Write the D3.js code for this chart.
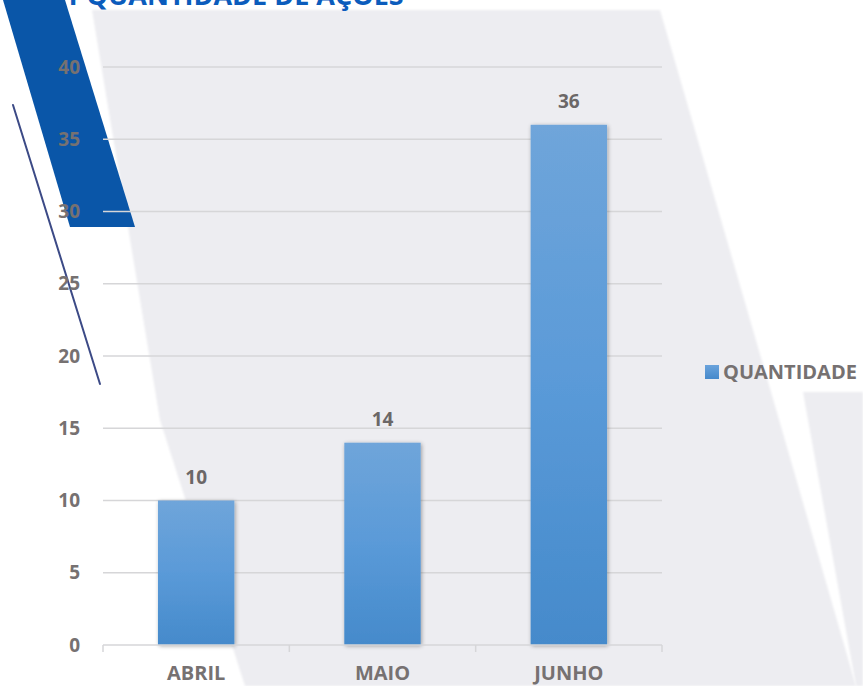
<!DOCTYPE html>
<html>
<head>
<meta charset="utf-8">
<script src="https://cdn.jsdelivr.net/npm/d3@7"></script>
<style>
  html, body { margin: 0; padding: 0; background: #ffffff; }
  svg { display: block; }
  text { font-family: "Open Sans", "Liberation Sans", sans-serif; font-weight: 700; }
</style>
</head>
<body>
<svg id="chart" width="863" height="686"></svg>
<script>
// Chart data
const title = "1 QUANTIDADE DE AÇÕES";
const categories = ["ABRIL", "MAIO", "JUNHO"];
const values = [10, 14, 36];
const seriesName = "QUANTIDADE";
const yTicks = [0, 5, 10, 15, 20, 25, 30, 35, 40];

const W = 863, H = 686;
const svg = d3.select("#chart");
const defs = svg.append("defs");

// Bar fill: lighter at the top, deeper at the base
const grad = defs.append("linearGradient")
  .attr("id", "barGrad").attr("x1", 0).attr("y1", 0).attr("x2", 0).attr("y2", 1);
grad.append("stop").attr("offset", "0%").attr("stop-color", "#6fa5da");
grad.append("stop").attr("offset", "50%").attr("stop-color", "#5a9ad8");
grad.append("stop").attr("offset", "100%").attr("stop-color", "#458acb");

const legGrad = defs.append("linearGradient")
  .attr("id", "legGrad").attr("x1", 0).attr("y1", 0).attr("x2", 0).attr("y2", 1);
legGrad.append("stop").attr("offset", "0%").attr("stop-color", "#6aa3dc");
legGrad.append("stop").attr("offset", "100%").attr("stop-color", "#4689cb");

// Soft shadow around the bars
const shadow = defs.append("filter").attr("id", "barShadow")
  .attr("x", "-20%").attr("y", "-5%").attr("width", "140%").attr("height", "115%");
shadow.append("feGaussianBlur").attr("in", "SourceAlpha").attr("stdDeviation", 2.2).attr("result", "b");
shadow.append("feOffset").attr("in", "b").attr("dx", 1).attr("dy", 1).attr("result", "o");
shadow.append("feComponentTransfer").attr("in", "o").attr("result", "s")
  .append("feFuncA").attr("type", "linear").attr("slope", 0.35);
const merge = shadow.append("feMerge");
merge.append("feMergeNode").attr("in", "s");
merge.append("feMergeNode").attr("in", "SourceGraphic");

const soft = defs.append("filter").attr("id", "soft");
soft.append("feGaussianBlur").attr("stdDeviation", 1.2);

// Decorative background panels
const bg = svg.append("g");
bg.append("path")
  .attr("d", "M92,10 L660,10 L771,392 L856,686 L245,686 L160,420 Z")
  .attr("fill", "#ededf1").attr("filter", "url(#soft)");
bg.append("path")
  .attr("d", "M803,392 L863,392 L863,686 L856,686 Z")
  .attr("fill", "#ededf1").attr("filter", "url(#soft)");
bg.append("path")
  .attr("d", "M3,0 L65,0 L135,227 L70,227 Z")
  .attr("fill", "#0a56a8");
bg.append("line")
  .attr("x1", 13).attr("y1", 105).attr("x2", 100).attr("y2", 384)
  .attr("stroke", "#3c4a86").attr("stroke-width", 2).attr("stroke-linecap", "round");

// Title, running off the top edge
svg.append("text")
  .attr("x", 64).attr("y", 5)
  .attr("fill", "#0b5cbc").attr("font-size", 27)
  .text(title);

// Scales
const y = d3.scaleLinear().domain([0, 40]).range([645, 67]);
const x = d3.scaleBand().domain(categories).range([103, 662])
  .paddingInner(0.59).paddingOuter(0.295);
const step = x.step();

// Gridlines
svg.append("g")
  .selectAll("line").data(yTicks.filter(d => d > 0)).join("line")
  .attr("x1", 103).attr("x2", 662)
  .attr("y1", d => y(d)).attr("y2", d => y(d))
  .attr("stroke", "#d6d6d8").attr("stroke-width", 1.5);

// Y axis labels
svg.append("g")
  .selectAll("text").data(yTicks).join("text")
  .attr("x", 80).attr("y", d => y(d))
  .attr("dy", "0.35em").attr("text-anchor", "end")
  .attr("fill", "#767171").attr("font-size", 19)
  .text(d => d);

// Bars
svg.append("g")
  .selectAll("rect").data(values).join("rect")
  .attr("x", (d, i) => x(categories[i]))
  .attr("y", d => y(d))
  .attr("width", x.bandwidth())
  .attr("height", d => y(0) - y(d))
  .attr("fill", "url(#barGrad)")
  .attr("filter", "url(#barShadow)");

// Category axis line and boundary ticks
const axis = svg.append("g");
axis.append("line")
  .attr("x1", 103).attr("x2", 662).attr("y1", y(0)).attr("y2", y(0))
  .attr("stroke", "#d6d6d8").attr("stroke-width", 1.5);
const bounds = categories.map(c => x(c) - step * x.paddingInner() / 2)
  .concat([x(categories[categories.length - 1]) + x.bandwidth() + step * x.paddingInner() / 2]);
axis.selectAll("line.tick").data(bounds).join("line")
  .attr("class", "tick")
  .attr("x1", d => d).attr("x2", d => d)
  .attr("y1", y(0)).attr("y2", y(0) + 7)
  .attr("stroke", "#d6d6d8").attr("stroke-width", 1.5);

// Category labels
svg.append("g")
  .selectAll("text").data(categories).join("text")
  .attr("x", d => x(d) + x.bandwidth() / 2)
  .attr("y", 673).attr("dy", "0.35em")
  .attr("text-anchor", "middle")
  .attr("fill", "#767171").attr("font-size", 20)
  .text(d => d);

// Value labels
svg.append("g")
  .selectAll("text").data(values).join("text")
  .attr("x", (d, i) => x(categories[i]) + x.bandwidth() / 2)
  .attr("y", d => y(d) - 23).attr("dy", "0.35em")
  .attr("text-anchor", "middle")
  .attr("fill", "#6b6767").attr("font-size", 19)
  .text(d => d);

// Legend
const leg = svg.append("g");
leg.append("rect")
  .attr("x", 705).attr("y", 365).attr("width", 14).attr("height", 14)
  .attr("fill", "url(#legGrad)");
leg.append("text")
  .attr("x", 723).attr("y", 372).attr("dy", "0.35em")
  .attr("fill", "#767171").attr("font-size", 20)
  .text(seriesName);
</script>
</body>
</html>
